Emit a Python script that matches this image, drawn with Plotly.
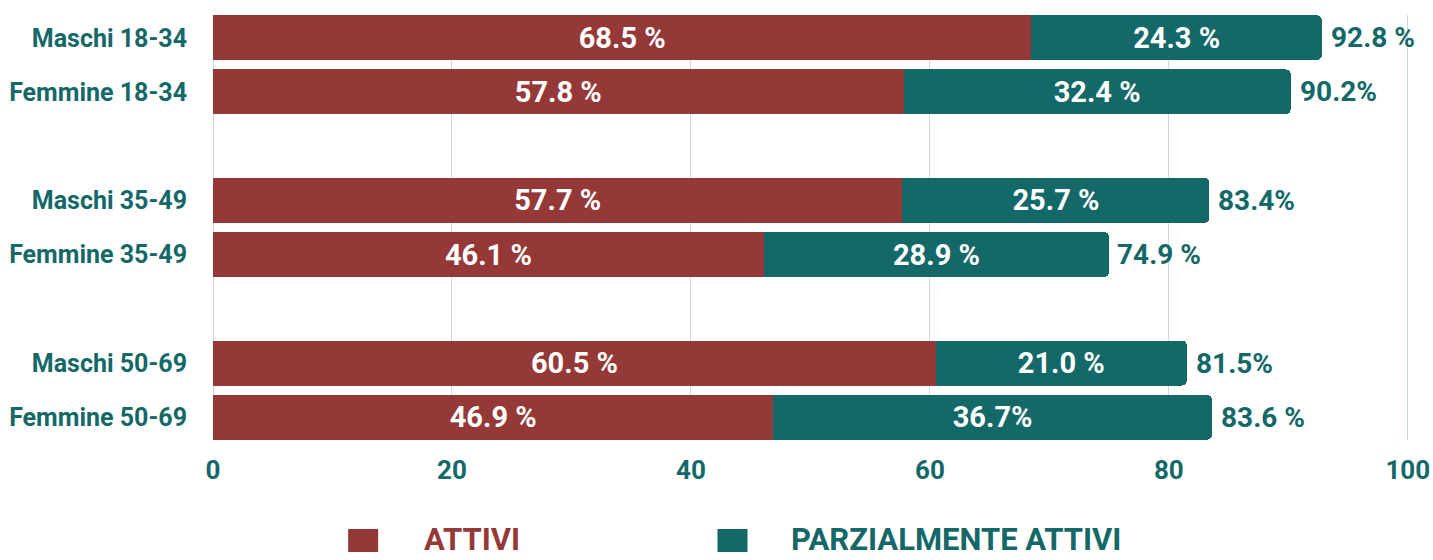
import plotly.graph_objects as go

categories = ["Maschi 18-34", "Femmine 18-34", "Maschi 35-49",
              "Femmine 35-49", "Maschi 50-69", "Femmine 50-69"]
positions = [0, 1, 3, 4, 6, 7]
attivi = [68.5, 57.8, 57.7, 46.1, 60.5, 46.9]
parziali = [24.3, 32.4, 25.7, 28.9, 21.0, 36.7]
totali = [92.8, 90.2, 83.4, 74.9, 81.5, 83.6]
attivi_labels = ["68.5 %", "57.8 %", "57.7 %", "46.1 %", "60.5 %", "46.9 %"]
parziali_labels = ["24.3 %", "32.4 %", "25.7 %", "28.9 %", "21.0 %", "36.7%"]
totali_labels = ["92.8 %", "90.2%", "83.4%", "74.9 %", "81.5%", "83.6 %"]
x_ticks = [0, 20, 40, 60, 80, 100]
series_names = ["ATTIVI", "PARZIALMENTE ATTIVI"]

RED = "#943838"
TEAL = "#146868"
GRID = "#c9dbde"
FONT = "Roboto, Liberation Sans, sans-serif"

fig = go.Figure()
fig.add_trace(go.Bar(
    y=positions, x=attivi, orientation="h", name=series_names[0],
    marker=dict(color=RED, line=dict(width=0)), width=0.83,
    text=attivi_labels, textposition="inside", insidetextanchor="middle",
    textangle=0, textfont=dict(color="white", size=29, family=FONT, weight="bold"),
    hoverinfo="skip",
))
fig.add_trace(go.Bar(
    y=positions, x=parziali, orientation="h", name=series_names[1],
    marker=dict(color=TEAL, line=dict(width=0)), width=0.83,
    text=parziali_labels, textposition="inside", insidetextanchor="middle",
    textangle=0, textfont=dict(color="white", size=29, family=FONT, weight="bold"),
    hoverinfo="skip",
))

for xv, yv, lab in zip(totali, positions, totali_labels):
    fig.add_annotation(x=xv, y=yv, xref="x", yref="y", text=lab, showarrow=False,
                       xanchor="left", yanchor="middle", xshift=7,
                       font=dict(color=TEAL, size=28, family=FONT, weight="bold"))

fig.update_layout(
    width=1433, height=560,
    barmode="stack", barcornerradius=5,
    plot_bgcolor="white", paper_bgcolor="white",
    margin=dict(l=213, r=24, t=15, b=120, autoexpand=False),
    showlegend=False,
    font=dict(family=FONT, color=TEAL),
)
fig.update_xaxes(
    range=[0, 100.1], tickvals=x_ticks, showgrid=True, gridcolor=GRID, gridwidth=1,
    zeroline=True, zerolinecolor=GRID, zerolinewidth=1,
    ticks="outside", ticklen=7, tickcolor="rgba(0,0,0,0)",
    ticklabeloverflow="allow", automargin=False,
    tickfont=dict(size=26, color=TEAL, family=FONT, weight="bold"),
    fixedrange=True,
)
fig.update_yaxes(
    range=[7.42, -0.42], tickvals=positions, ticktext=categories,
    showgrid=False, zeroline=False, ticklabelstandoff=25, automargin=False,
    tickfont=dict(size=25, color=TEAL, family=FONT, weight="bold"),
    fixedrange=True,
)

# legend drawn manually
legend_items = [(series_names[0], RED, 0.113, 0.1749), (series_names[1], TEAL, 0.4218, 0.482)]
for name, col, sx, tx in legend_items:
    fig.add_shape(type="rect", xref="paper", yref="paper",
                  x0=sx, x1=sx + 0.0251, y0=-0.2635, y1=-0.2094,
                  fillcolor=col, line=dict(width=0))
    fig.add_annotation(xref="paper", yref="paper", x=tx, y=-0.186,
                       xanchor="left", yanchor="top", showarrow=False,
                       text=name, font=dict(size=31, color=col, family=FONT, weight="bold"))

fig.write_html("out.html", config={"displayModeBar": False})
